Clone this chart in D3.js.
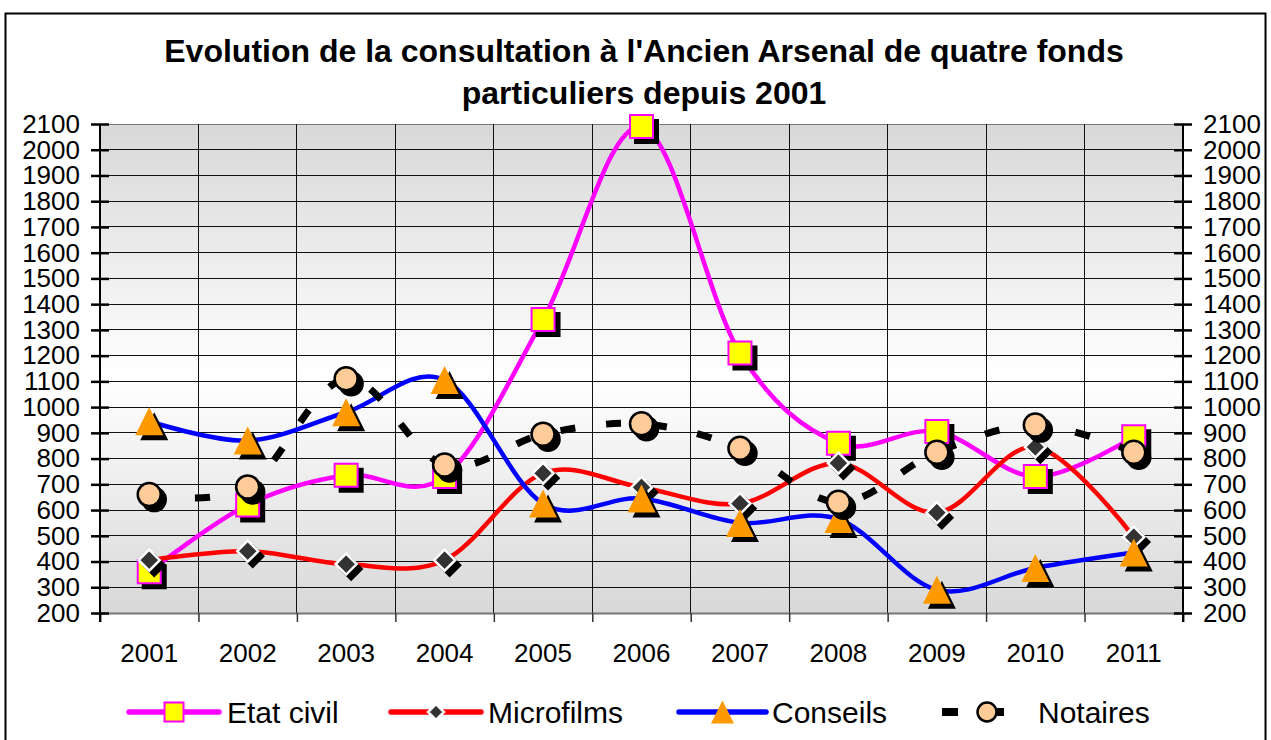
<!DOCTYPE html>
<html lang="fr">
<head>
<meta charset="UTF-8">
<title>Consultation Ancien Arsenal</title>
<style>
  body { margin: 0; background: #fff; }
  svg { display: block; font-family: "Liberation Sans", Arial, sans-serif; }
</style>
</head>
<body>
<svg id="svg" width="1271" height="740"></svg>

<script src="https://d3js.org/d3.v7.min.js"></script>
<script>
  // data
  const years = ['2001', '2002', '2003', '2004', '2005', '2006', '2007', '2008', '2009', '2010', '2011']
  const etatCivil = [360, 620, 735, 730, 1340, 2090, 1210, 860, 905, 730, 885]
  const microfilms = [405, 440, 390, 405, 743, 688, 625, 782, 590, 845, 495]
  const conseils = [945, 870, 980, 1105, 625, 645, 550, 565, 290, 375, 435]
  const notaires = [660, 690, 1110, 775, 895, 935, 840, 630, 825, 930, 825]
  const yTicks = d3.range(200, 2101, 100)

  const FONT = '"Liberation Sans", Arial, sans-serif'
  const plotL = 100, plotR = 1183, plotT = 124, plotB = 613

  const svg = d3.select('#svg')

  const x = d3.scaleBand().domain(years).range([plotL, plotR])
  const xEdge = d3.scaleLinear().domain([0, years.length]).range([plotL, plotR])
  const y = d3.scaleLinear().domain([200, 2100]).range([plotB, plotT])
  const cx = i => x(years[i]) + x.bandwidth() / 2

  // outer frame
  svg.append('rect')
    .attr('x', 5.5).attr('y', 13.5).attr('width', 1260).attr('height', 800)
    .attr('fill', 'none').attr('stroke', '#000').attr('stroke-width', 2)

  // title
  svg.append('text')
    .attr('x', 644).attr('text-anchor', 'middle')
    .attr('font-size', 32).attr('font-weight', 'bold')
    .selectAll('tspan')
    .data(["Evolution de la consultation à l'Ancien Arsenal de quatre fonds", 'particuliers depuis 2001'])
    .join('tspan')
    .attr('x', 644)
    .attr('y', (d, i) => 62 + i * 41.5)
    .text(d => d)

  // plot background gradient
  const grad = svg.append('defs').append('linearGradient')
    .attr('id', 'bg').attr('x1', 0).attr('y1', 0).attr('x2', 0).attr('y2', 1)
  grad.append('stop').attr('offset', '0%').attr('stop-color', '#d8d8d8')
  grad.append('stop').attr('offset', '52%').attr('stop-color', '#ffffff')
  grad.append('stop').attr('offset', '100%').attr('stop-color', '#d8d8d8')

  svg.append('rect')
    .attr('x', plotL).attr('y', plotT)
    .attr('width', plotR - plotL).attr('height', plotB - plotT)
    .attr('fill', 'url(#bg)')

  // grid
  svg.append('g').attr('shape-rendering', 'crispEdges')
    .selectAll('line').data(yTicks.filter(d => d > 200)).join('line')
    .attr('x1', plotL).attr('x2', plotR)
    .attr('y1', d => y(d)).attr('y2', d => y(d))
    .attr('stroke', d => d === 2100 ? '#777' : '#111').attr('stroke-width', 1)

  svg.append('g').attr('shape-rendering', 'crispEdges')
    .selectAll('line').data(d3.range(1, years.length)).join('line')
    .attr('x1', d => xEdge(d)).attr('x2', d => xEdge(d))
    .attr('y1', plotT).attr('y2', plotB)
    .attr('stroke', '#111').attr('stroke-width', 1)

  // x axis: ticks on category edges, labels in the middle
  const xTicks = svg.append('g')
    .attr('transform', `translate(0,${plotB})`)
    .call(d3.axisBottom(xEdge).tickValues(d3.range(0, years.length + 1)).tickSize(9).tickFormat(''))
  xTicks.select('.domain').attr('stroke', '#777').attr('stroke-width', 2)
  xTicks.selectAll('.tick line').attr('stroke', '#333').attr('stroke-width', 1.5)

  const xLabels = svg.append('g')
    .attr('transform', `translate(0,${plotB})`)
    .call(d3.axisBottom(x).tickSize(0).tickPadding(30.5))
  xLabels.select('.domain').remove()
  xLabels.attr('font-size', 26).attr('font-family', FONT)

  // y axes, left and right, ticks crossing the axis line
  function yAxis(axis, xPos) {
    const g = svg.append('g')
      .attr('transform', `translate(${xPos},0)`)
      .call(axis(y).tickValues(yTicks).tickFormat(d3.format('d')).tickSize(9).tickPadding(11))
    g.attr('font-size', 26).attr('font-family', FONT)
    g.select('.domain').remove()
    g.selectAll('.tick line')
      .attr('x1', axis === d3.axisLeft ? 9 : -9)
      .attr('stroke-width', 2.5)
    g.append('line')
      .attr('y1', plotT).attr('y2', plotB + 9)
      .attr('stroke', '#000').attr('stroke-width', 2)
  }
  yAxis(d3.axisLeft, plotL)
  yAxis(d3.axisRight, plotR)

  // marker shapes
  function markerPath(type, s) {
    if (type === 'square') return `M${-s / 2},${-s / 2}h${s}v${s}h${-s}Z`
    if (type === 'diamond') return `M0,${-s}L${s},0L0,${s}L${-s},0Z`
    if (type === 'triangle') return `M0,${-s / 2}L${s / 2},${s / 2}L${-s / 2},${s / 2}Z`
    return `M${s},0A${s},${s} 0 1,1 ${-s},0A${s},${s} 0 1,1 ${s},0Z`
  }

  const series = [
    { name: 'Etat civil', values: etatCivil, color: '#ff00ff', width: 4.5, marker: 'square',
      size: 23, legSize: 19, fill: '#ffff00', stroke: '#ff00ff', sw: 2 },
    { name: 'Microfilms', values: microfilms, color: '#ff0000', width: 4.5, marker: 'diamond',
      size: 10.5, legSize: 8, fill: '#333333', stroke: '#ffffff', sw: 2.5 },
    { name: 'Conseils', values: conseils, color: '#0000ff', width: 4.5, marker: 'triangle',
      size: 28, legSize: 23, fill: '#ff9900', stroke: 'none', sw: 0 },
    { name: 'Notaires', values: notaires, color: '#000000', width: 7, dash: '15 31', marker: 'circle',
      size: 11.5, legSize: 9.5, fill: '#ffcc99', stroke: '#000000', sw: 2.5 }
  ]

  const line = d3.line()
    .x((d, i) => cx(i))
    .y(d => y(d))
    .curve(d3.curveCardinal.tension(0))

  series.forEach(s => {
    const g = svg.append('g')
    g.append('path')
      .attr('d', line(s.values))
      .attr('fill', 'none')
      .attr('stroke', s.color)
      .attr('stroke-width', s.width)
      .attr('stroke-dasharray', s.dash || null)

    // shadows
    g.selectAll('.shadow').data(s.values).join('path')
      .attr('class', 'shadow')
      .attr('transform', (d, i) => `translate(${cx(i) + 5},${y(d) + 5})`)
      .attr('d', markerPath(s.marker, s.size))
      .attr('fill', '#000')
      .attr('stroke', s.sw ? '#000' : 'none')
      .attr('stroke-width', s.sw)

    g.selectAll('.mark').data(s.values).join('path')
      .attr('class', 'mark')
      .attr('transform', (d, i) => `translate(${cx(i)},${y(d)})`)
      .attr('d', markerPath(s.marker, s.size))
      .attr('fill', s.fill)
      .attr('stroke', s.stroke)
      .attr('stroke-width', s.sw)
  })

  // legend
  const legendPos = [
    { x1: 129, x2: 219, text: 227 },
    { x1: 391, x2: 481, text: 488 },
    { x1: 679, x2: 766, text: 772 },
    { x1: 942, x2: 1032, text: 1038 }
  ]
  const legY = 712

  const leg = svg.append('g').selectAll('g').data(series).join('g')

  leg.append('line')
    .attr('x1', (d, i) => legendPos[i].x1)
    .attr('x2', (d, i) => legendPos[i].x2)
    .attr('y1', legY).attr('y2', legY)
    .attr('stroke', d => d.color)
    .attr('stroke-width', d => d.dash ? 8 : 5.5)
    .attr('stroke-linecap', d => d.dash ? 'butt' : 'round')
    .attr('stroke-dasharray', d => d.dash ? '16 30' : null)

  leg.append('path')
    .attr('transform', (d, i) => `translate(${(legendPos[i].x1 + legendPos[i].x2) / 2},${legY})`)
    .attr('d', d => markerPath(d.marker, d.legSize))
    .attr('fill', d => d.fill)
    .attr('stroke', d => d.stroke)
    .attr('stroke-width', d => d.sw)

  leg.append('text')
    .attr('x', (d, i) => legendPos[i].text)
    .attr('y', legY + 11)
    .attr('font-size', 30)
    .text(d => d.name)
</script>
</body>
</html>
